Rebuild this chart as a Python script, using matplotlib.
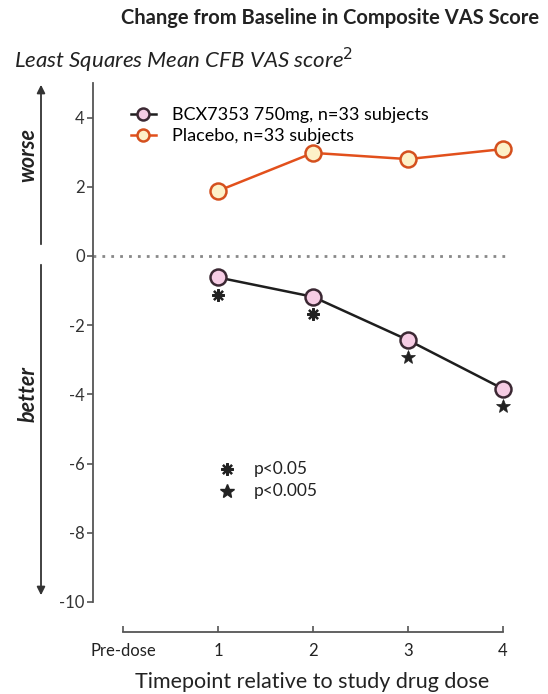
import matplotlib
matplotlib.use("Agg")
import matplotlib.pyplot as plt

plt.rcParams['font.family'] = ['Lato', 'DejaVu Sans']
plt.rcParams['axes.unicode_minus'] = False

# data
timepoints = [1, 2, 3, 4]
tick_pos = [0, 1, 2, 3, 4]
tick_labels = ['Pre-dose', '1', '2', '3', '4']
bcx_vals = [-0.62, -1.18, -2.43, -3.84]
placebo_vals = [1.88, 2.98, 2.80, 3.09]
# significance markers under the BCX points: '*' p<0.05, 'star' p<0.005
sig_marks = ['asterisk', 'asterisk', 'star', 'star']

fig = plt.figure(figsize=(5.48, 6.94), dpi=100)
ax = fig.add_axes([93 / 548, 62 / 694, 427 / 548, 549 / 694])
ax.set_xlim(-0.316, 4.18)
ax.set_ylim(-10.87, 5.0)

for s in ['top', 'right']:
    ax.spines[s].set_visible(False)
ax.spines['left'].set_bounds(-10, 5)
ax.spines['bottom'].set_bounds(0, 4)
ax.spines['left'].set_color('#555555')
ax.spines['bottom'].set_color('#555555')
ax.spines['left'].set_linewidth(1.3)
ax.spines['bottom'].set_linewidth(1.3)

ax.set_yticks([4, 2, 0, -2, -4, -6, -8, -10])
ax.set_xticks(tick_pos)
ax.set_xticklabels(tick_labels)
ax.tick_params(axis='y', direction='out', length=4, width=1.2, color='#555555',
               labelsize=12, labelcolor='#333333', pad=2)
ax.tick_params(axis='x', direction='in', length=4, width=1.2, color='#555555',
               labelsize=12, labelcolor='#222222', pad=8)

# reference line at zero
ax.plot([-0.316, 4.02], [0, 0], linestyle=(0, (1, 2.2)), color='#888888', linewidth=2)

ax.plot(timepoints, placebo_vals, color='#e2501c', linewidth=1.8, marker='o',
        markersize=11.5, markerfacecolor='#fdf1c8', markeredgecolor='#d4501e',
        markeredgewidth=1.8, label='Placebo, n=33 subjects', zorder=3)
ax.plot(timepoints, bcx_vals, color='#1e1e1e', linewidth=1.8, marker='o',
        markersize=11.5, markerfacecolor='#f6cce4', markeredgecolor='#3b2833',
        markeredgewidth=1.8, label='BCX7353 750mg, n=33 subjects', zorder=3)

for x, y, m in zip(timepoints, bcx_vals, sig_marks):
    mk = (8, 2, 0) if m == 'asterisk' else '*'
    ax.plot(x, y - 0.5, marker=mk, color='#222222', markersize=9 if m == 'asterisk' else 10,
            markeredgewidth=1.6 if m == 'asterisk' else 0.5, linestyle='none', zorder=4)

# p-value key
ax.plot(1.1, -6.15, marker=(8, 2, 0), color='#222222', markersize=9, markeredgewidth=1.6)
ax.plot(1.1, -6.8, marker='*', color='#222222', markersize=10)
ax.text(1.38, -6.15, 'p<0.05', fontsize=12.5, va='center', color='#222222')
ax.text(1.38, -6.8, 'p<0.005', fontsize=12.5, va='center', color='#222222')

# legend, BCX first
handles, labels = ax.get_legend_handles_labels()
leg = ax.legend(handles[::-1], labels[::-1], loc='upper left', bbox_to_anchor=(0.05, 0.985),
                frameon=False, fontsize=13, handlelength=1.4, handletextpad=0.9,
                labelspacing=0.25, markerscale=0.75)

ax.set_xlabel('Timepoint relative to study drug dose', fontsize=15.5, color='#222222')
ax.xaxis.set_label_coords(0.513, -0.072)

# worse / better arrows on the left
fig.patches.append(matplotlib.patches.FancyArrowPatch(
    (41 / 548, 1 - 247 / 694), (41 / 548, 1 - 82 / 694), transform=fig.transFigure,
    arrowstyle='-|>', mutation_scale=12, color='#333333', linewidth=1.3))
fig.patches.append(matplotlib.patches.FancyArrowPatch(
    (41 / 548, 1 - 262 / 694), (41 / 548, 1 - 598 / 694), transform=fig.transFigure,
    arrowstyle='-|>', mutation_scale=12, color='#333333', linewidth=1.3))
fig.text(28 / 548, 1 - 155 / 694, 'worse', rotation=90, fontsize=15.5, fontweight='bold',
         fontstyle='italic', ha='center', va='center', color='#222222')
fig.text(28 / 548, 1 - 394 / 694, 'better', rotation=90, fontsize=15.5, fontweight='bold',
         fontstyle='italic', ha='center', va='center', color='#222222')

fig.text(330 / 548, 1 - 18 / 694, 'Change from Baseline in Composite VAS Score',
         fontsize=14.5, fontweight='bold', ha='center', va='center', color='#222222')
fig.text(14 / 548, 1 - 60 / 694, 'Least Squares Mean CFB VAS score$^\\mathit{2}$',
         fontsize=16, fontstyle='italic', ha='left', va='center', color='#222222')

fig.savefig('out.png', dpi=100)
